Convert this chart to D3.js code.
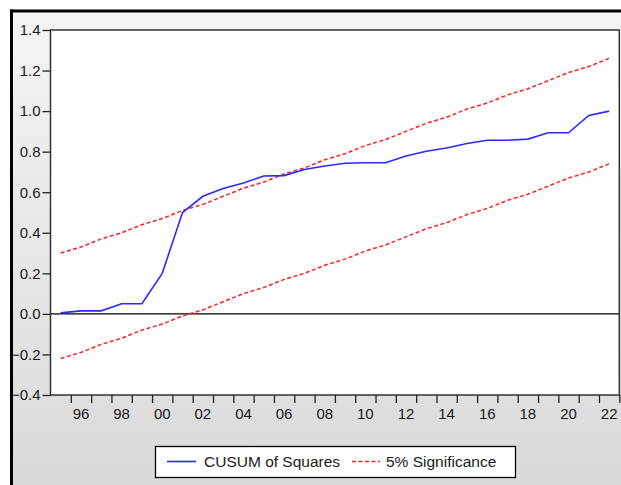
<!DOCTYPE html>
<html><head><meta charset="utf-8">
<script src="https://cdn.jsdelivr.net/npm/d3@7"></script>
<style>html,body{margin:0;padding:0;background:#fff;}svg{display:block;}</style>
</head><body>
<script>
const years = [1995,1996,1997,1998,1999,2000,2001,2002,2003,2004,2005,2006,2007,2008,2009,2010,2011,2012,2013,2014,2015,2016,2017,2018,2019,2020,2021,2022];
const cusumSq = [0.005,0.015,0.015,0.05,0.05,0.20,0.50,0.58,0.618,0.645,0.68,0.682,0.712,0.729,0.743,0.745,0.745,0.779,0.802,0.818,0.84,0.856,0.856,0.862,0.893,0.893,0.979,1.0];
const upper = [0.30,0.33,0.37,0.40,0.44,0.47,0.51,0.54,0.58,0.62,0.65,0.69,0.72,0.76,0.79,0.83,0.86,0.90,0.94,0.97,1.01,1.04,1.08,1.11,1.15,1.19,1.22,1.26];
const lower = [-0.22,-0.19,-0.15,-0.12,-0.08,-0.05,-0.01,0.02,0.06,0.10,0.13,0.17,0.20,0.24,0.27,0.31,0.34,0.38,0.42,0.45,0.49,0.52,0.56,0.59,0.63,0.67,0.70,0.74];
const yTicks = [-0.4,-0.2,0.0,0.2,0.4,0.6,0.8,1.0,1.2,1.4];
const xLabelYears = [1996,1998,2000,2002,2004,2006,2008,2010,2012,2014,2016,2018,2020,2022];
const legendLabels = ["CUSUM of Squares","5% Significance"];

const W=621,H=485;
const FONT="Liberation Sans, Arial, sans-serif";
const svg=d3.select("body").append("svg").attr("width",W).attr("height",H);
const defs=svg.append("defs");
const g=defs.append("linearGradient").attr("id","bg").attr("x1",0).attr("y1",0).attr("x2",0).attr("y2",1);
g.append("stop").attr("offset","0%").attr("stop-color","#f5f5f5");
g.append("stop").attr("offset","100%").attr("stop-color","#d9d9d9");
svg.append("rect").attr("x",0).attr("y",0).attr("width",W).attr("height",H).attr("fill","#fff");
svg.append("rect").attr("x",11.5).attr("y",11).attr("width",W).attr("height",H).attr("fill","url(#bg)");

const L=50.5,R=619.3,T=30,B=395;
const x=d3.scaleLinear().domain([1994.5,2022.5]).range([L,R]);
const y=d3.scaleLinear().domain([-0.4,1.4]).range([B,T]);

svg.append("rect").attr("x",L).attr("y",T).attr("width",R-L).attr("height",B-T).attr("fill","#fff");

svg.append("line").attr("x1",L).attr("x2",R).attr("y1",y(0)).attr("y2",y(0)).attr("stroke","#000").attr("stroke-width",1.2);

const line=d3.line().x((d,i)=>x(years[i])).y(d=>y(d));
svg.append("path").datum(upper).attr("d",line).attr("fill","none").attr("stroke","#ff2020").attr("stroke-width",1.5).attr("stroke-dasharray","4,2.5");
svg.append("path").datum(lower).attr("d",line).attr("fill","none").attr("stroke","#ff2020").attr("stroke-width",1.5).attr("stroke-dasharray","4,2.5");
svg.append("path").datum(cusumSq).attr("d",line).attr("fill","none").attr("stroke","#2a2aff").attr("stroke-width",1.6);

svg.append("rect").attr("x",L).attr("y",T).attr("width",R-L).attr("height",B-T).attr("fill","none").attr("stroke","#333").attr("stroke-width",1.5);

const yAxis=d3.axisLeft(y).tickValues(yTicks).tickFormat(d3.format(".1f")).tickSize(8).tickPadding(2);
const ya=svg.append("g").attr("transform",`translate(${L},0)`).call(yAxis);
ya.select(".domain").remove();
ya.selectAll("line").attr("stroke","#222").attr("stroke-width",1.3);
ya.selectAll("text").attr("font-family",FONT).attr("font-size",15).attr("fill","#1a1a1a");

const bounds=years.map(v=>v+0.5);
const xAxis=d3.axisBottom(x).tickValues(bounds).tickFormat("").tickSize(8);
const xa=svg.append("g").attr("transform",`translate(0,${B})`).call(xAxis);
xa.select(".domain").remove();
xa.selectAll("line").attr("stroke","#222").attr("stroke-width",1.3);
svg.append("g").selectAll("text").data(xLabelYears).join("text")
  .attr("x",d=>x(d)).attr("y",419).attr("text-anchor","middle")
  .attr("font-family",FONT).attr("font-size",15).attr("fill","#1a1a1a")
  .text(d=>String(d%100).padStart(2,"0"));

const lg=svg.append("g");
lg.append("rect").attr("x",155.5).attr("y",446.5).attr("width",360).attr("height",31).attr("fill","#fff").attr("stroke","#000").attr("stroke-width",1.3);
lg.append("line").attr("x1",167).attr("x2",196).attr("y1",461.5).attr("y2",461.5).attr("stroke","#2a2aff").attr("stroke-width",1.6);
lg.append("text").attr("x",204).attr("y",467).attr("font-family",FONT).attr("font-size",15.5).attr("fill","#1a1a1a").text(legendLabels[0]);
lg.append("line").attr("x1",352).attr("x2",380).attr("y1",461.5).attr("y2",461.5).attr("stroke","#ff2020").attr("stroke-width",1.5).attr("stroke-dasharray","4,2.5");
lg.append("text").attr("x",386).attr("y",467).attr("font-family",FONT).attr("font-size",15.5).attr("fill","#1a1a1a").text(legendLabels[1]);

svg.append("line").attr("x1",10).attr("x2",W).attr("y1",11).attr("y2",11).attr("stroke","#000").attr("stroke-width",3);
svg.append("line").attr("x1",11.5).attr("x2",11.5).attr("y1",9.5).attr("y2",H).attr("stroke","#000").attr("stroke-width",3);
</script>
</body></html>
